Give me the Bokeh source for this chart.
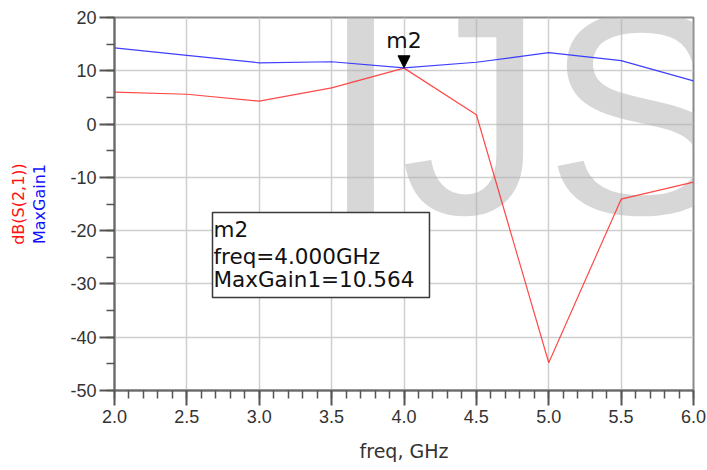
import math
from bokeh.plotting import figure
from bokeh.models import (Range1d, SingleIntervalTicker, FixedTicker, PrintfTickFormatter, Label,
                          BoxAnnotation, Arrow, NormalHead, LinearAxis)
from bokeh.embed import file_html
from bokeh.resources import INLINE

# ---- data ----
freq = [2.0, 2.5, 3.0, 3.5, 4.0, 4.5, 5.0, 5.5, 6.0]
s21_db = [6.0, 5.6, 4.3, 6.8, 10.5, 1.75, -44.8, -14.1, -10.9]
max_gain = [14.3, 12.9, 11.5, 11.7, 10.564, 11.6, 13.4, 11.9, 8.1]
marker_name = "m2"
marker_freq = 4.0
marker_val = 10.564

FONT = "Liberation Sans"
BOXFONT = "DejaVu Sans"

p = figure(width=707, height=470, x_range=Range1d(2, 6), y_range=Range1d(-50, 20),
           output_backend="svg", toolbar_location=None,
           min_border_left=114, min_border_right=14, min_border_top=17, min_border_bottom=80)
p.background_fill_color = "white"
p.border_fill_color = "white"
p.outline_line_color = "#8a8a8a"
p.outline_line_width = 2

# axes
p.xaxis.ticker = SingleIntervalTicker(interval=0.5, num_minor_ticks=5)
p.yaxis.ticker = SingleIntervalTicker(interval=10, num_minor_ticks=2)
p.xaxis.formatter = PrintfTickFormatter(format="%.1f")
p.yaxis.formatter = PrintfTickFormatter(format="%d")
for ax in (p.xaxis, p.yaxis):
    ax.axis_line_color = "#6a6a6a"
    ax.axis_line_width = 2
    ax.major_tick_line_color = "#555555"
    ax.major_tick_line_width = 2
    ax.minor_tick_line_color = "#555555"
    ax.minor_tick_line_width = 1.5
    ax.major_tick_in = 0
    ax.minor_tick_in = 0
    ax.major_tick_out = 15
    ax.minor_tick_out = 8
    ax.major_label_text_font = FONT
    ax.major_label_text_font_size = "18px"
    ax.major_label_text_color = "#333333"
p.xaxis.major_label_standoff = 4
p.yaxis.major_label_standoff = 3

p.xaxis.axis_label = "freq, GHz"
p.xaxis.axis_label_text_font = BOXFONT
p.xaxis.axis_label_text_font_style = "normal"
p.xaxis.axis_label_text_font_size = "19px"
p.xaxis.axis_label_text_color = "#333333"
p.xaxis.axis_label_standoff = 14

p.yaxis.axis_label = "MaxGain1"
p.yaxis.axis_label_text_font = BOXFONT
p.yaxis.axis_label_text_font_style = "normal"
p.yaxis.axis_label_text_font_size = "16px"
p.yaxis.axis_label_text_color = "#1010ff"
p.yaxis.axis_label_standoff = 18

red_axis = LinearAxis(ticker=FixedTicker(ticks=[]), axis_label="dB(S(2,1))",
                      axis_line_color=None, major_tick_line_color=None,
                      minor_tick_line_color=None, major_tick_out=0, minor_tick_out=0,
                      major_label_standoff=0, major_label_text_font_size="0px",
                      axis_label_standoff=0, axis_label_text_font=BOXFONT,
                      axis_label_text_font_style="normal", axis_label_text_font_size="16px",
                      axis_label_text_color="#ff1010")
p.add_layout(red_axis, "left")

p.grid.grid_line_color = "#cfcfcf"
p.grid.grid_line_width = 1.5

# watermark
p.add_layout(Label(x=3.423, y=1.985, text="IJS", text_font=FONT, text_font_size="288px",
                   text_color="#b0b0b0", text_alpha=0.5, text_align="left",
                   text_baseline="alphabetic", level="underlay"))

# series
p.line(freq, s21_db, line_color="#ff2a2a", line_width=1.2, line_alpha=0.85)
p.line(freq, max_gain, line_color="#2a2aff", line_width=1.2, line_alpha=0.9)

# marker
p.add_layout(Arrow(end=NormalHead(size=12, fill_color="black", line_color="black", line_width=1),
                   x_start=marker_freq, y_start=marker_val + 3, x_end=marker_freq, y_end=marker_val,
                   line_alpha=0, line_width=0))
p.add_layout(Label(x=marker_freq, y=15.68, text=marker_name, text_align="center",
                   text_baseline="alphabetic", text_font=BOXFONT, text_font_size="22px",
                   text_color="#111111"))

# marker readout box
p.add_layout(BoxAnnotation(left=2.677, right=4.176, top=-16.59, bottom=-32.54,
                           fill_color="white", fill_alpha=1.0,
                           line_color="#3a3a3a", line_width=1.5, line_alpha=1.0))
lines = [marker_name, "freq=%.3fGHz" % marker_freq, "MaxGain1=%.3f" % marker_val]
for txt, yy in zip(lines, [-19.78, -24.85, -29.16]):
    p.add_layout(Label(x=2.684, y=yy, text=txt, text_align="left", text_baseline="alphabetic",
                       text_font=BOXFONT, text_font_size="21.5px", text_color="#111111"))

open("out.html", "w").write(file_html(p, INLINE))
